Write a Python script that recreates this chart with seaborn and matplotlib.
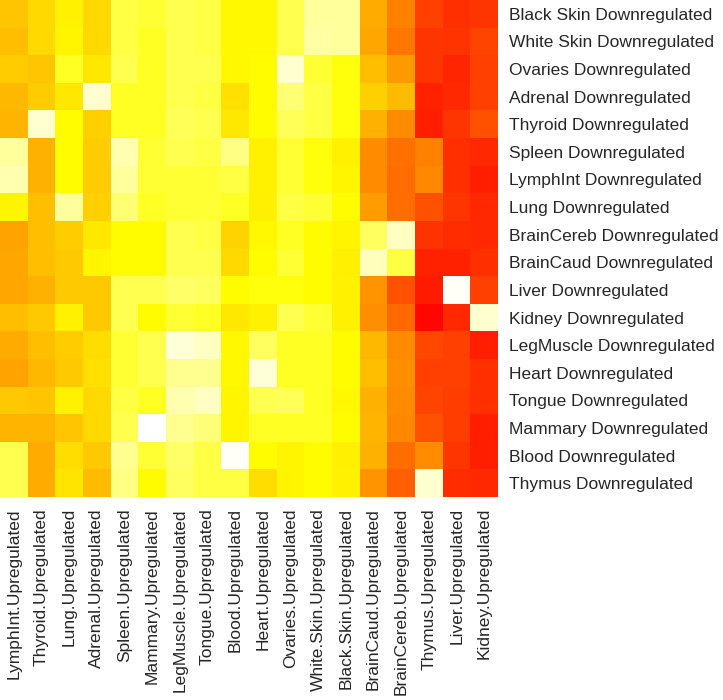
import numpy as np
import pandas as pd
import matplotlib
matplotlib.use("Agg")
import matplotlib.pyplot as plt
import seaborn as sns
from matplotlib.colors import LinearSegmentedColormap

col_labels = ["LymphInt.Upregulated", "Thyroid.Upregulated", "Lung.Upregulated",
              "Adrenal.Upregulated", "Spleen.Upregulated", "Mammary.Upregulated",
              "LegMuscle.Upregulated", "Tongue.Upregulated", "Blood.Upregulated",
              "Heart.Upregulated", "Ovaries.Upregulated", "White.Skin.Upregulated",
              "Black.Skin.Upregulated", "BrainCaud.Upregulated", "BrainCereb.Upregulated",
              "Thymus.Upregulated", "Liver.Upregulated", "Kidney.Upregulated"]

row_labels = ["Black Skin Downregulated", "White Skin Downregulated", "Ovaries Downregulated",
              "Adrenal Downregulated", "Thyroid Downregulated", "Spleen Downregulated",
              "LymphInt Downregulated", "Lung Downregulated", "BrainCereb Downregulated",
              "BrainCaud Downregulated", "Liver Downregulated", "Kidney Downregulated",
              "LegMuscle Downregulated", "Heart Downregulated", "Tongue Downregulated",
              "Mammary Downregulated", "Blood Downregulated", "Thymus Downregulated"]

black_skin = [0.58, 0.64, 0.71, 0.64, 0.813, 0.80, 0.825, 0.813, 0.73, 0.73, 0.825, 0.90, 0.90, 0.50, 0.38, 0.19, 0.14, 0.16]
white_skin = [0.56, 0.64, 0.72, 0.64, 0.813, 0.785, 0.825, 0.813, 0.73, 0.73, 0.825, 0.91, 0.90, 0.49, 0.35, 0.16, 0.15, 0.20]
ovaries    = [0.60, 0.58, 0.785, 0.68, 0.825, 0.785, 0.825, 0.825, 0.73, 0.74, 0.95, 0.80, 0.76, 0.56, 0.45, 0.16, 0.11, 0.19]
adrenal    = [0.54, 0.60, 0.68, 0.95, 0.785, 0.785, 0.825, 0.813, 0.66, 0.74, 0.86, 0.813, 0.76, 0.61, 0.55, 0.10, 0.12, 0.19]
thyroid    = [0.53, 0.95, 0.74, 0.61, 0.785, 0.785, 0.835, 0.825, 0.68, 0.74, 0.835, 0.813, 0.76, 0.52, 0.41, 0.09, 0.16, 0.24]
spleen     = [0.90, 0.52, 0.74, 0.60, 0.92, 0.80, 0.825, 0.813, 0.875, 0.71, 0.80, 0.76, 0.71, 0.41, 0.33, 0.38, 0.14, 0.12]
lymphint   = [0.92, 0.52, 0.74, 0.60, 0.90, 0.80, 0.80, 0.80, 0.813, 0.71, 0.80, 0.76, 0.72, 0.41, 0.32, 0.40, 0.14, 0.09]
lung       = [0.72, 0.56, 0.90, 0.61, 0.86, 0.785, 0.80, 0.80, 0.785, 0.70, 0.813, 0.80, 0.74, 0.46, 0.32, 0.24, 0.16, 0.12]
braincereb = [0.48, 0.56, 0.60, 0.68, 0.74, 0.74, 0.825, 0.813, 0.62, 0.73, 0.785, 0.74, 0.72, 0.84, 0.94, 0.15, 0.13, 0.12]
braincaud  = [0.49, 0.56, 0.59, 0.72, 0.74, 0.74, 0.825, 0.825, 0.64, 0.74, 0.80, 0.74, 0.70, 0.93, 0.813, 0.10, 0.10, 0.14]
liver      = [0.49, 0.52, 0.59, 0.59, 0.825, 0.825, 0.85, 0.84, 0.74, 0.76, 0.76, 0.74, 0.71, 0.43, 0.24, 0.08, 0.99, 0.19]
kidney     = [0.56, 0.59, 0.71, 0.59, 0.825, 0.74, 0.80, 0.785, 0.68, 0.71, 0.825, 0.80, 0.71, 0.42, 0.31, 0.02, 0.12, 0.95]
legmuscle  = [0.50, 0.56, 0.60, 0.65, 0.80, 0.825, 0.96, 0.94, 0.73, 0.84, 0.785, 0.785, 0.74, 0.54, 0.41, 0.21, 0.19, 0.09]
heart      = [0.48, 0.54, 0.59, 0.66, 0.80, 0.825, 0.89, 0.89, 0.73, 0.96, 0.785, 0.785, 0.74, 0.56, 0.42, 0.19, 0.19, 0.14]
tongue     = [0.59, 0.58, 0.71, 0.64, 0.813, 0.785, 0.92, 0.94, 0.72, 0.825, 0.835, 0.785, 0.73, 0.52, 0.41, 0.20, 0.18, 0.14]
mammary    = [0.53, 0.53, 0.58, 0.64, 0.825, 1.00, 0.89, 0.865, 0.72, 0.785, 0.785, 0.785, 0.74, 0.53, 0.40, 0.24, 0.18, 0.09]
blood      = [0.825, 0.50, 0.65, 0.59, 0.89, 0.80, 0.85, 0.813, 0.99, 0.74, 0.72, 0.74, 0.70, 0.52, 0.32, 0.41, 0.16, 0.09]
thymus     = [0.825, 0.50, 0.67, 0.55, 0.875, 0.74, 0.84, 0.813, 0.813, 0.65, 0.72, 0.74, 0.71, 0.43, 0.28, 0.95, 0.13, 0.12]

rows = [black_skin, white_skin, ovaries, adrenal, thyroid, spleen, lymphint, lung,
        braincereb, braincaud, liver, kidney, legmuscle, heart, tongue, mammary, blood, thymus]
df = pd.DataFrame(rows, index=row_labels, columns=col_labels)

heat = LinearSegmentedColormap.from_list(
    "heat", [(0.0, "#FF0000"), (0.75, "#FFFF00"), (1.0, "#FFFFFF")])

sns.set_style("white")
plt.rcParams["font.family"] = ["Liberation Sans", "DejaVu Sans"]

fig = plt.figure(figsize=(7.23, 7.0), dpi=100)
ax = fig.add_axes([0.0, 0.29, 0.689, 0.71])
sns.heatmap(df, cmap=heat, vmin=0, vmax=1, cbar=False, ax=ax, square=False)
ax.yaxis.tick_right()
ax.tick_params(axis="both", length=0, pad=8)
ax.set_yticklabels(ax.get_yticklabels(), rotation=0, fontsize=12.5)
ax.set_xticklabels(ax.get_xticklabels(), rotation=90, fontsize=12.5)
ax.set_xlabel("")
ax.set_ylabel("")
fig.savefig("out.png", dpi=100)
